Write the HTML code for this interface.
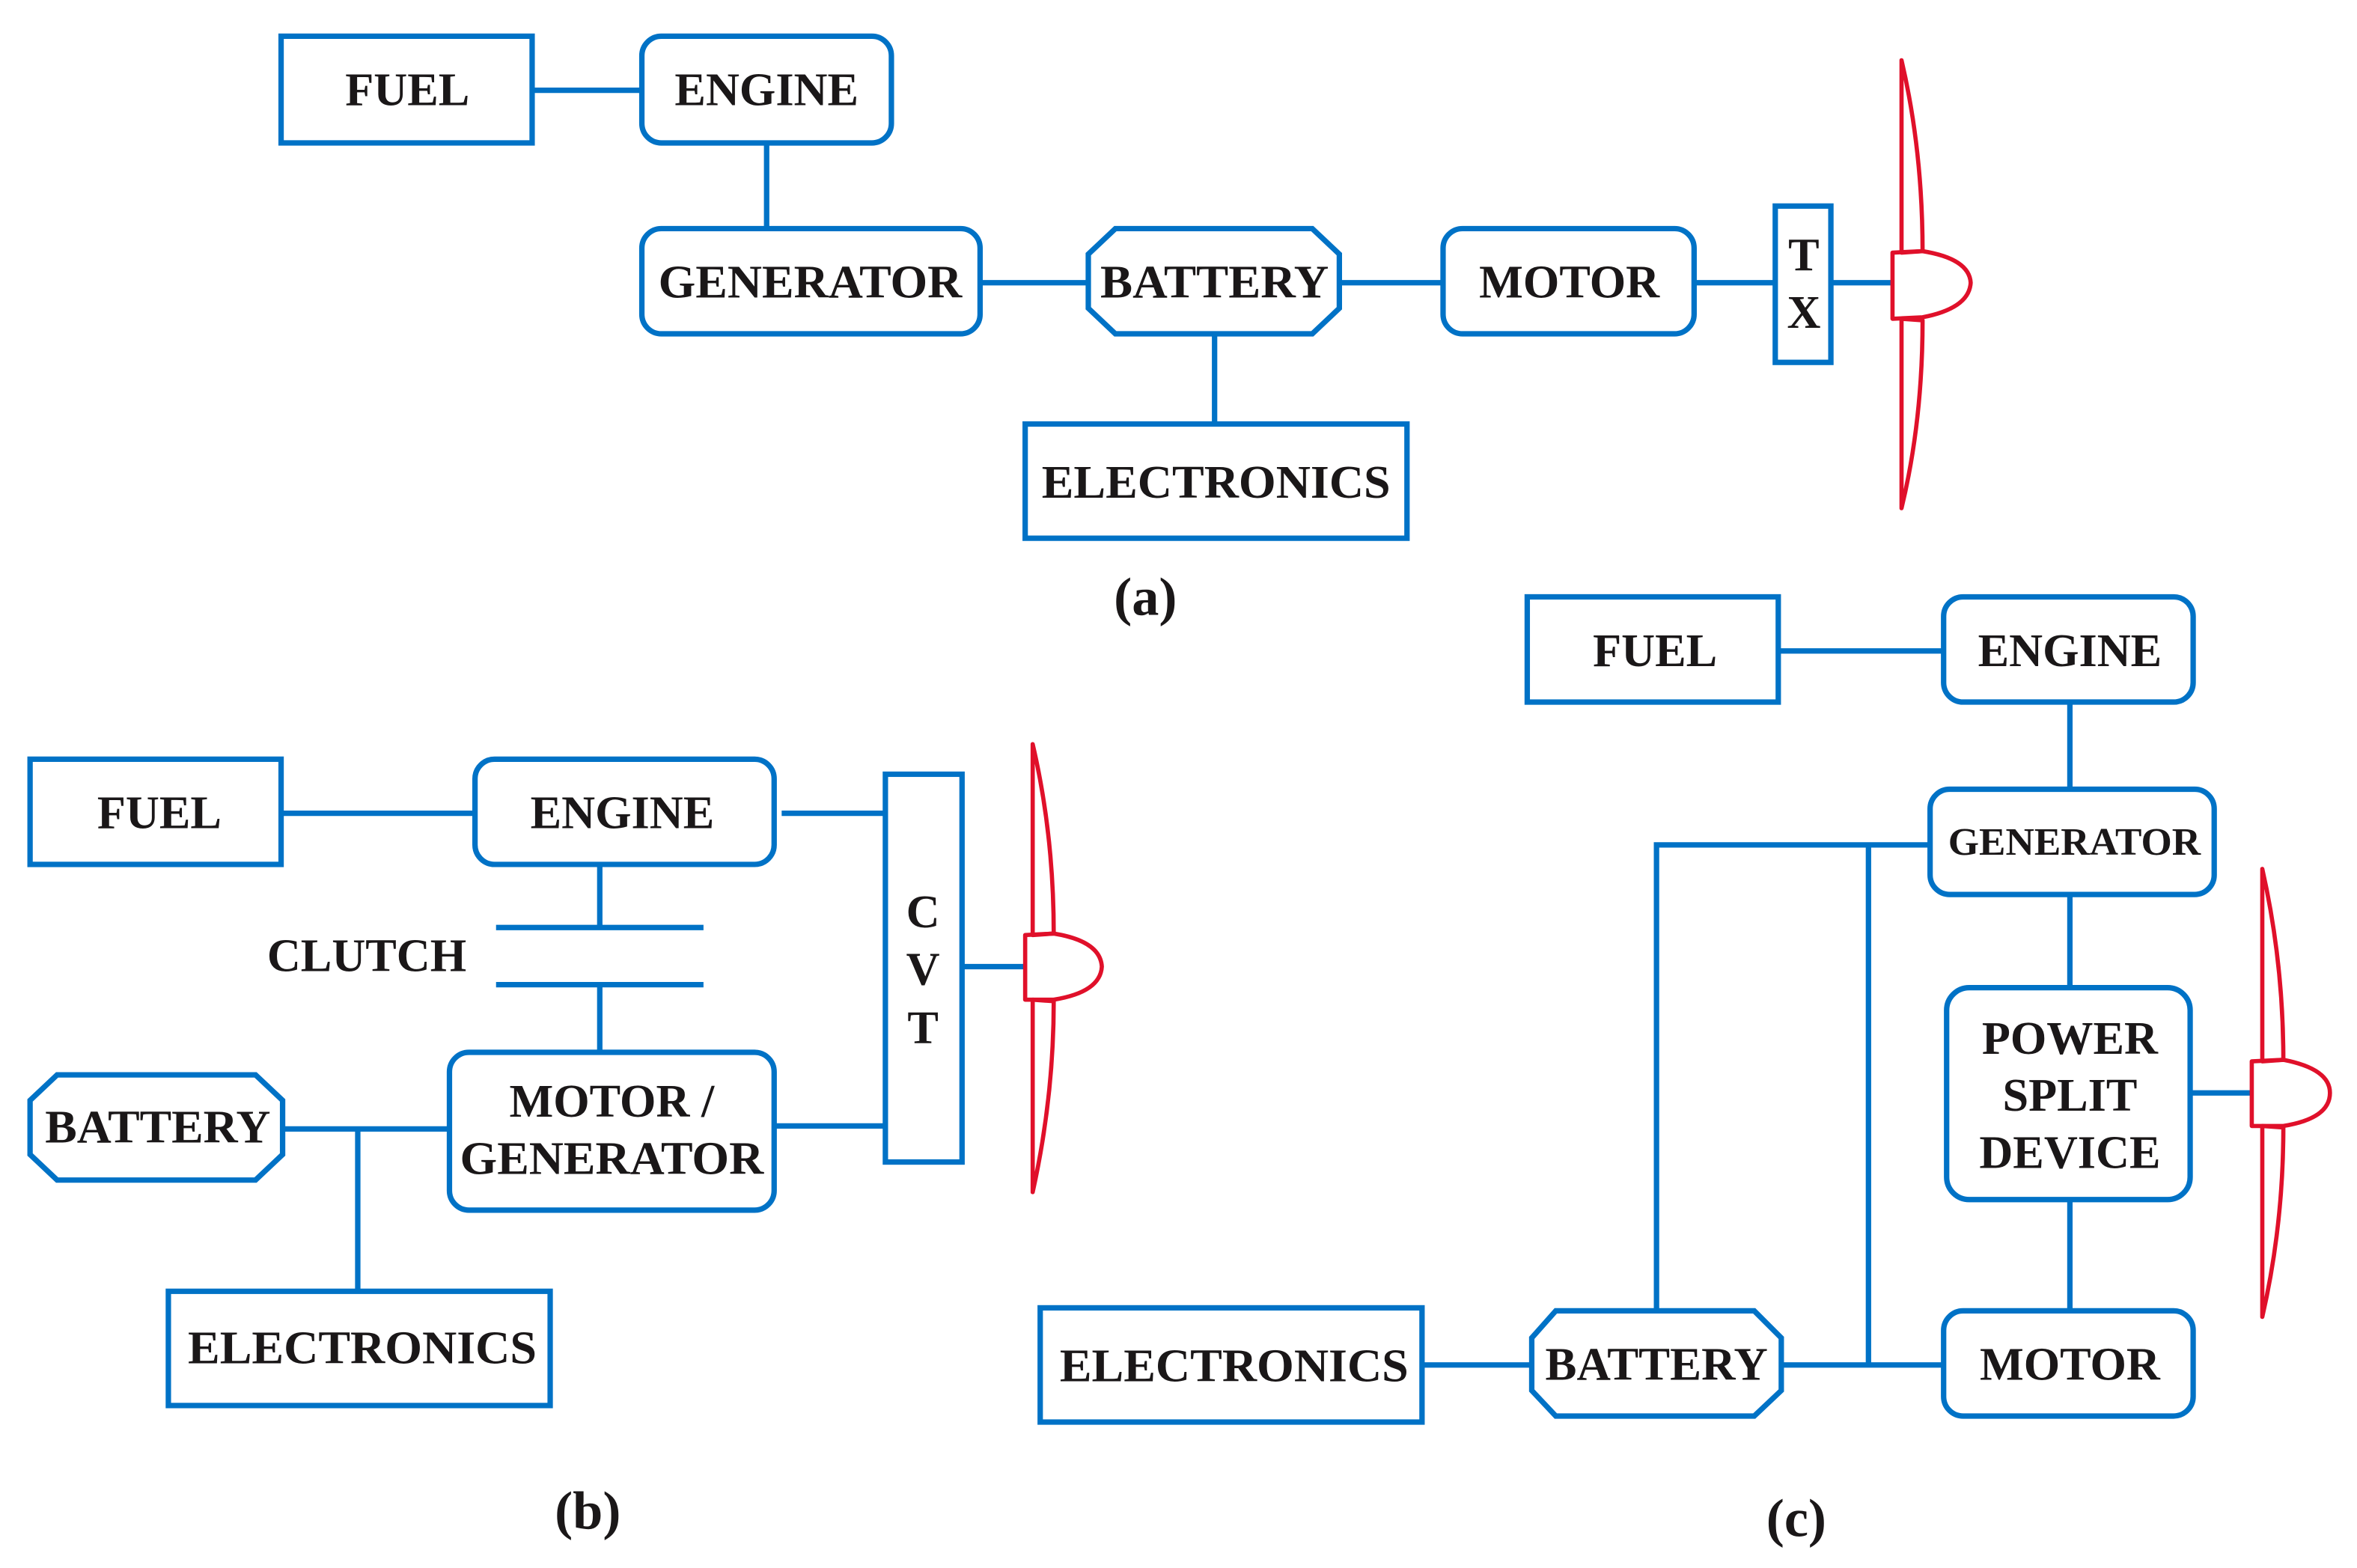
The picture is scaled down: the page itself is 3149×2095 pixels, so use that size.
<!DOCTYPE html>
<html><head><meta charset="utf-8"><style>
html,body{margin:0;padding:0;background:#fff;}
svg{display:block;}
text{font-family:"Liberation Serif",serif;font-weight:bold;fill:#1a1718;text-anchor:middle;dominant-baseline:central;}
</style></head><body>
<svg width="3149" height="2095" viewBox="0 0 1568 1043" xmlns="http://www.w3.org/2000/svg">
<g fill="none" stroke="#0072c6" stroke-width="3.6">
<rect x="187" y="24" width="167" height="71"/>
<rect x="427" y="24" width="166" height="71" rx="13"/>
<line x1="354" y1="60" x2="427" y2="60"/>
<line x1="510" y1="95" x2="510" y2="152"/>
<rect x="427" y="152" width="225" height="70" rx="13"/>
<line x1="652" y1="188" x2="724" y2="188"/>
<polygon points="742,152 873,152 891,169 891,205 873,222 742,222 724,205 724,169"/>
<line x1="891" y1="188" x2="960" y2="188"/>
<rect x="960" y="152" width="167" height="70" rx="13"/>
<line x1="1127" y1="188" x2="1181" y2="188"/>
<rect x="1181" y="137" width="37" height="104"/>
<line x1="1218" y1="188" x2="1259" y2="188"/>
<rect x="682" y="282" width="254" height="76"/>
<line x1="808" y1="222" x2="808" y2="282"/>
<rect x="20" y="505" width="167" height="70"/>
<line x1="187" y1="541" x2="316" y2="541"/>
<rect x="316" y="505" width="199" height="70" rx="13"/>
<line x1="520" y1="541" x2="589" y2="541"/>
<rect x="589" y="515" width="51" height="258"/>
<line x1="399" y1="575" x2="399" y2="617"/>
<line x1="330" y1="617" x2="468" y2="617"/>
<line x1="330" y1="655" x2="468" y2="655"/>
<line x1="399" y1="655" x2="399" y2="700"/>
<rect x="299" y="700" width="216" height="105" rx="13"/>
<line x1="515" y1="749" x2="589" y2="749"/>
<line x1="640" y1="643" x2="682" y2="643"/>
<polygon points="38,715 170,715 188,732 188,768 170,785 38,785 20,768 20,732"/>
<line x1="188" y1="751" x2="299" y2="751"/>
<line x1="238" y1="751" x2="238" y2="859"/>
<rect x="112" y="859" width="254" height="76"/>
<rect x="1016" y="397" width="167" height="70"/>
<line x1="1183" y1="433" x2="1293" y2="433"/>
<rect x="1293" y="397" width="166" height="70" rx="13"/>
<line x1="1377" y1="467" x2="1377" y2="525"/>
<rect x="1284" y="525" width="189" height="70" rx="13"/>
<polyline points="1284,562 1102,562 1102,872"/>
<line x1="1243" y1="562" x2="1243" y2="908"/>
<line x1="1377" y1="595" x2="1377" y2="657"/>
<rect x="1295" y="657" width="162" height="141" rx="15"/>
<line x1="1457" y1="727" x2="1498" y2="727"/>
<line x1="1377" y1="798" x2="1377" y2="872"/>
<rect x="1293" y="872" width="166" height="70" rx="13"/>
<line x1="1185" y1="908" x2="1293" y2="908"/>
<polygon points="1035,872 1167,872 1185,890 1185,925 1167,942 1035,942 1019,925 1019,890"/>
<rect x="692" y="870" width="254" height="76"/>
<line x1="946" y1="908" x2="1019" y2="908"/>
</g>
<g fill="none" stroke="#e0102a" stroke-width="2.8" stroke-linejoin="round">
<path d="M1265,40 L1265,168 L1279,167 Q1279,100 1265,40 Z"/>
<path d="M1265,338 L1265,212 L1279,213 Q1279,280 1265,338 Z"/>
<path d="M1259,168 L1279,167 Q1310,172 1311,188 Q1310,205 1279,211 L1259,212 Z"/>
<path d="M687,495 L687,622 L701,621 Q701,555 687,495 Z"/>
<path d="M687,793 L687,665 L701,666 Q701,730 687,793 Z"/>
<path d="M682,622 L701,621 Q732,626 733,643 Q732,660 701,665 L682,665 Z"/>
<path d="M1505,578 L1505,706 L1519,705 Q1519,640 1505,578 Z"/>
<path d="M1505,876 L1505,749 L1519,750 Q1519,815 1505,876 Z"/>
<path d="M1498,706 L1519,705 Q1550,711 1550,727 Q1550,744 1519,749 L1498,749 Z"/>
</g>
<g font-size="31">
<text x="271" y="60">FUEL</text>
<text x="510" y="60">ENGINE</text>
<text x="539" y="188" textLength="202" lengthAdjust="spacingAndGlyphs">GENERATOR</text>
<text x="808" y="188" textLength="152" lengthAdjust="spacingAndGlyphs">BATTERY</text>
<text x="1044" y="188">MOTOR</text>
<text x="1200" y="170">T</text>
<text x="1200" y="208">X</text>
<text x="809" y="321" textLength="232" lengthAdjust="spacingAndGlyphs">ELECTRONICS</text>
<text x="762" y="397" font-size="36">(a)</text>
<text x="106" y="541">FUEL</text>
<text x="414" y="541">ENGINE</text>
<text x="614" y="607">C</text>
<text x="614" y="645">V</text>
<text x="614" y="684">T</text>
<text x="244" y="636">CLUTCH</text>
<text x="407" y="733">MOTOR /</text>
<text x="407" y="771" textLength="202" lengthAdjust="spacingAndGlyphs">GENERATOR</text>
<text x="105" y="750" textLength="150" lengthAdjust="spacingAndGlyphs">BATTERY</text>
<text x="241" y="897" textLength="232" lengthAdjust="spacingAndGlyphs">ELECTRONICS</text>
<text x="391" y="1005" font-size="36">(b)</text>
<text x="1101" y="433">FUEL</text>
<text x="1377" y="433">ENGINE</text>
<text x="1380" y="560" font-size="26" textLength="168" lengthAdjust="spacingAndGlyphs">GENERATOR</text>
<text x="1377" y="691">POWER</text>
<text x="1377" y="729">SPLIT</text>
<text x="1377" y="767">DEVICE</text>
<text x="1377" y="908">MOTOR</text>
<text x="1102" y="908" textLength="148" lengthAdjust="spacingAndGlyphs">BATTERY</text>
<text x="821" y="909" textLength="232" lengthAdjust="spacingAndGlyphs">ELECTRONICS</text>
<text x="1195" y="1010" font-size="36">(c)</text>
</g>
</svg>
</body></html>
